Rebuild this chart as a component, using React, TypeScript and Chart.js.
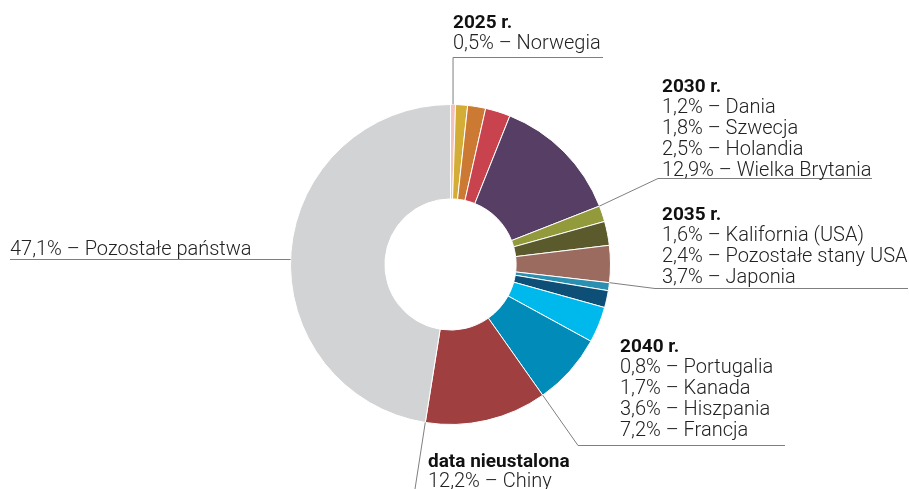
import React, { useEffect, useRef } from "react";
import { Chart, registerables } from "chart.js";

Chart.register(...registerables);

const countries = [
  "Norwegia", "Dania", "Szwecja", "Holandia", "Wielka Brytania",
  "Kalifornia (USA)", "Pozostałe stany USA", "Japonia",
  "Portugalia", "Kanada", "Hiszpania", "Francja",
  "Chiny", "Pozostałe państwa",
];
const shares = [0.5, 1.2, 1.8, 2.5, 12.9, 1.6, 2.4, 3.7, 0.8, 1.7, 3.6, 7.2, 12.2, 47.1];
const shareLabels = ["0,5%", "1,2%", "1,8%", "2,5%", "12,9%", "1,6%", "2,4%", "3,7%", "0,8%", "1,7%", "3,6%", "7,2%", "12,2%", "47,1%"];
const colors = [
  "#f2c2bb", "#d4ad37", "#cc7a33", "#c9434f", "#563e64",
  "#939a3c", "#5a5a2d", "#9c6b60",
  "#2a8fb0", "#0e4f78", "#00b9ec", "#008bb8",
  "#a03f3f", "#d1d3d4",
];
const groupTitles = ["2025 r.", "2030 r.", "2035 r.", "2040 r.", "data nieustalona", ""];
const groupMembers = [[0], [1, 2, 3, 4], [5, 6, 7], [8, 9, 10, 11], [12], [13]];

const FONT_LIGHT = "300 20px Roboto";
const FONT_BOLD = "700 19px Roboto";
const LINE_H = 21;

function labelLine(i: number) {
  return `${shareLabels[i]} – ${countries[i]}`;
}

const annotPlugin = {
  id: "annot",
  afterDraw(chart: any) {
    const ctx = chart.ctx as CanvasRenderingContext2D;
    const arcs = chart.getDatasetMeta(0).data as any[];
    const pt = (a: any, ang: number) => ({
      x: a.x + a.outerRadius * Math.cos(ang),
      y: a.y + a.outerRadius * Math.sin(ang),
    });
    ctx.save();
    ctx.strokeStyle = "#7f7f7f";
    ctx.lineWidth = 1;
    const poly = (pts: { x: number; y: number }[]) => {
      ctx.beginPath();
      pts.forEach((p, k) => (k ? ctx.lineTo(p.x, p.y) : ctx.moveTo(p.x, p.y)));
      ctx.stroke();
    };
    const a0 = arcs[0];
    const p0 = pt(a0, (a0.startAngle + a0.endAngle) / 2);
    poly([{ x: p0.x, y: p0.y }, { x: p0.x, y: 57.5 }, { x: 603, y: 57.5 }]);
    const p1 = pt(arcs[4], arcs[4].endAngle);
    poly([p1, { x: 658, y: 178.5 }, { x: 872, y: 178.5 }]);
    const p2 = pt(arcs[7], arcs[7].endAngle);
    poly([p2, { x: 655, y: 288.5 }, { x: 908, y: 288.5 }]);
    const p3 = pt(arcs[11], arcs[11].endAngle);
    poly([p3, { x: 578, y: 445.5 }, { x: 785, y: 445.5 }]);
    const p4 = pt(arcs[12], arcs[12].endAngle);
    poly([p4, { x: 415, y: 489 }]);
    const a13 = arcs[13];
    const yL = 259.5;
    const xL = a13.x - Math.sqrt(Math.max(a13.outerRadius ** 2 - (yL - a13.y) ** 2, 0));
    poly([{ x: 10, y: yL }, { x: xL, y: yL }]);

    const blocks = [
      { x: 453, y: 28 },
      { x: 662, y: 92 },
      { x: 662, y: 220 },
      { x: 620, y: 352 },
      { x: 428, y: 467 },
      { x: 10, y: 234 },
    ];
    ctx.textBaseline = "alphabetic";
    ctx.textAlign = "left";
    blocks.forEach((b, g) => {
      let y = b.y;
      if (groupTitles[g]) {
        ctx.font = FONT_BOLD;
        ctx.fillStyle = "#111";
        ctx.fillText(groupTitles[g], b.x, y);
      }
      ctx.font = FONT_LIGHT;
      ctx.fillStyle = "#222";
      groupMembers[g].forEach((i) => {
        y += g === 4 ? 20 : LINE_H;
        ctx.fillText(labelLine(i), b.x, y);
      });
    });
    ctx.restore();
  },
};

export default function App() {
  const ref = useRef<HTMLCanvasElement>(null);
  useEffect(() => {
    if (!ref.current) return;
    const chart = new Chart(ref.current, {
      type: "doughnut",
      data: {
        labels: countries,
        datasets: [
          {
            data: shares,
            backgroundColor: colors,
            borderColor: "#ffffff",
            borderWidth: 1,
          },
        ],
      },
      options: {
        responsive: false,
        animation: false,
        cutout: "41%",
        layout: { padding: { left: 290, right: 298, top: 104, bottom: 64 } },
        plugins: { legend: { display: false }, tooltip: { enabled: false } },
      },
      plugins: [annotPlugin],
    });
    return () => chart.destroy();
  }, []);
  return (
    <div style={{ position: "fixed", left: 0, top: 0, width: 909, height: 489, background: "#fff" }}>
      <canvas ref={ref} width={909} height={489} style={{ width: 909, height: 489 }} />
    </div>
  );
}
